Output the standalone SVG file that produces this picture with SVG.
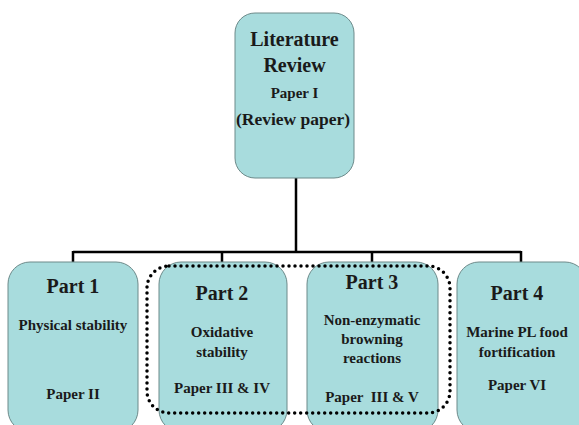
<svg xmlns="http://www.w3.org/2000/svg" width="579" height="425" viewBox="0 0 579 425">
<style>
.box{fill:#a8dcdd;stroke:#6d8a8a;stroke-width:1}
.conn{fill:none;stroke:#000;stroke-width:2.5}
.dot{fill:none;stroke:#000;stroke-width:3.5;stroke-dasharray:0 6;stroke-linecap:round}
text{font-family:"Liberation Serif","Times New Roman",serif;font-weight:bold;fill:#1a1a1a;text-anchor:middle}
.h{font-size:20px}
.s{font-size:15px}
</style>
<rect width="579" height="425" fill="#fff"/>
<g id="connectors">
<path class="conn" d="M296 178V252M73 252H521M73 251V263M222 251V263M372 251V263M521 251V263"/>
</g>
<g id="lit">
<rect class="box" x="235" y="13" width="119" height="165" rx="20"/>
<text class="h" x="294.5" y="46">Literature</text>
<text class="h" x="294.5" y="72">Review</text>
<text class="s" x="294.5" y="98">Paper I</text>
<text class="s" x="293" y="125" textLength="114" lengthAdjust="spacingAndGlyphs" style="font-size:16px">(Review paper)</text>
</g>
<g id="part1">
<rect class="box" x="8" y="262" width="130" height="170" rx="22"/>
<text class="h" x="73" y="293">Part 1</text>
<text class="s" x="73" y="330">Physical stability</text>
<text class="s" x="73" y="399">Paper II</text>
</g>
<g id="part2">
<rect class="box" x="159" y="262" width="128" height="170" rx="22"/>
<text class="h" x="222" y="300">Part 2</text>
<text class="s" x="222" y="337">Oxidative</text>
<text class="s" x="222" y="357">stability</text>
<text class="s" x="222" y="393">Paper III &amp; IV</text>
</g>
<g id="part3">
<rect class="box" x="307" y="262" width="131" height="170" rx="22"/>
<text class="h" x="372" y="289">Part 3</text>
<text class="s" x="372" y="325">Non-enzymatic</text>
<text class="s" x="372" y="344">browning</text>
<text class="s" x="372" y="363">reactions</text>
<text class="s" x="372" y="402" xml:space="preserve">Paper  III &amp; V</text>
</g>
<g id="part4">
<rect class="box" x="457" y="262" width="130" height="170" rx="22"/>
<text class="h" x="517" y="300">Part 4</text>
<text class="s" x="517" y="337">Marine PL food</text>
<text class="s" x="517" y="357">fortification</text>
<text class="s" x="517" y="390">Paper VI</text>
</g>
<g id="group">
<rect class="dot" x="147" y="266" width="303" height="147" rx="22"/>
</g>
</svg>
